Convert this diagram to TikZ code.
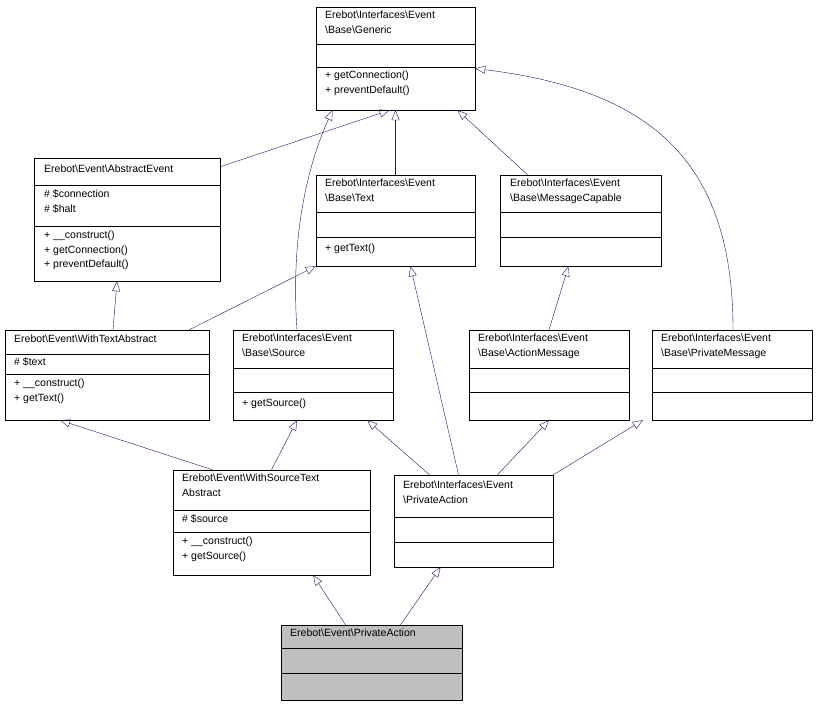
\documentclass[tikz,border=0pt]{standalone}
\usepackage{fontspec}
\setmainfont{Liberation Sans}
\usetikzlibrary{arrows.meta,fit}
\definecolor{edgeblue}{HTML}{191970}
\definecolor{boxgray}{HTML}{BFBFBF}
\tikzset{
  cls/.style={draw, inner sep=0pt, fill=white},
  lbl/.style={anchor=north west, align=left, inner sep=0pt, font=\fontsize{10.5}{14.5}\selectfont},
  inh/.style={draw=edgeblue, -{Triangle[open,length=10pt,width=8pt]}}
}
% class box: name, x1, y1, x2, y2, first rule, second rule
\newcommand\umlbox[8][]{%
  \node[cls,#1, fit={(#3,#4)(#5,#6)}] (#2) {};
  \draw (#3,#7) -- (#5,#7);
  \draw (#3,#8) -- (#5,#8);
}
\begin{document}
\begin{tikzpicture}[x=1pt,y=-1pt]
\useasboundingbox (0,0) rectangle (818,707);
% interfaces and classes
\umlbox{gen}{316}{7}{475}{110}{44}{67}
\node[lbl] at (325,11) {Erebot\textbackslash Interfaces\textbackslash Event\\\textbackslash Base\textbackslash Generic};
\node[lbl] at (325,71) {+ getConnection()\\+ preventDefault()};

\umlbox{abs}{34}{158}{220}{281}{185}{226}
\node[lbl] at (44,165) {Erebot\textbackslash Event\textbackslash AbstractEvent};
\node[lbl] at (44,190) {\# \$connection\\\# \$halt};
\node[lbl] at (44,231) {+ \_\_construct()\\+ getConnection()\\+ preventDefault()};

\umlbox{txt}{316}{175}{475}{266}{212}{237}
\node[lbl] at (325,179) {Erebot\textbackslash Interfaces\textbackslash Event\\\textbackslash Base\textbackslash Text};
\node[lbl] at (325,244) {+ getText()};

\umlbox{msgcap}{500}{175}{661}{266}{212}{237}
\node[lbl] at (510,179) {Erebot\textbackslash Interfaces\textbackslash Event\\\textbackslash Base\textbackslash MessageCapable};

\umlbox{wta}{5}{330}{209}{420}{354}{374}
\node[lbl] at (14,335) {Erebot\textbackslash Event\textbackslash WithTextAbstract};
\node[lbl] at (14,358) {\# \$text};
\node[lbl] at (14,379) {+ \_\_construct()\\+ getText()};

\umlbox{src}{233}{330}{393}{420}{368}{392}
\node[lbl] at (242,334) {Erebot\textbackslash Interfaces\textbackslash Event\\\textbackslash Base\textbackslash Source};
\node[lbl] at (242,399) {+ getSource()};

\umlbox{actmsg}{469}{330}{629}{420}{368}{392}
\node[lbl] at (478,334) {Erebot\textbackslash Interfaces\textbackslash Event\\\textbackslash Base\textbackslash ActionMessage};

\umlbox{privmsg}{652}{330}{812}{420}{368}{392}
\node[lbl] at (661,334) {Erebot\textbackslash Interfaces\textbackslash Event\\\textbackslash Base\textbackslash PrivateMessage};

\umlbox{wsta}{173}{470}{370}{575}{510}{532}
\node[lbl] at (182,474) {Erebot\textbackslash Event\textbackslash WithSourceText\\Abstract};
\node[lbl] at (182,515) {\# \$source};
\node[lbl] at (182,537) {+ \_\_construct()\\+ getSource()};

\umlbox{ipa}{394}{475}{553}{567}{517}{542}
\node[lbl] at (403,481) {Erebot\textbackslash Interfaces\textbackslash Event\\\textbackslash PrivateAction};

\umlbox[fill=boxgray]{pa}{281}{625}{462}{700}{648}{673}
\node[lbl] at (290,629) {Erebot\textbackslash Event\textbackslash PrivateAction};

% inheritance
\draw[inh] ([yshift=-9pt]abs.north east) -- ([xshift=-6pt]gen.south);
\draw[inh] ([xshift=-16pt]src.north) .. controls (290,230) and (310,160) .. ([xshift=-63pt]gen.south);
\draw[inh] (txt.north) -- (gen.south);
\draw[inh] ([xshift=-53pt]msgcap.north) -- ([xshift=62pt]gen.south);
\draw[inh] ([xshift=1pt]privmsg.north) .. controls (733,160) and (650,90) .. ([yshift=-10pt]gen.east);
\draw[inh] ([xshift=6pt]wta.north) -- ([xshift=-10pt]abs.south);
\draw[inh] ([xshift=-20pt]wta.north east) -- (txt.south west);
\draw[inh] ([xshift=-15pt]ipa.north) -- ([xshift=15pt]txt.south);
\draw[inh] (actmsg.north) -- ([xshift=-12pt]msgcap.south);
\draw[inh] ([xshift=-59pt]wsta.north) -- ([xshift=-47pt]wta.south);
\draw[inh] (wsta.north) -- ([xshift=-16pt]src.south);
\draw[inh] ([xshift=-44pt]ipa.north) -- ([xshift=-26pt]src.south east);
\draw[inh] ([xshift=24pt]ipa.north) -- (actmsg.south);
\draw[inh] (ipa.north east) -- ([xshift=-9pt]privmsg.south west);
\draw[inh] ([xshift=-26pt]pa.north) -- ([xshift=-57pt]wsta.south east);
\draw[inh] ([xshift=29pt]pa.north) -- ([xshift=-33pt]ipa.south);
\end{tikzpicture}
\end{document}
